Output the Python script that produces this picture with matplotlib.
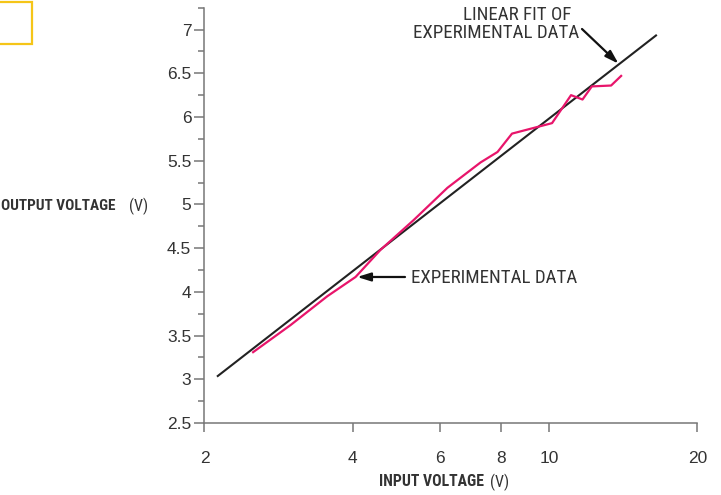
import numpy as np
import matplotlib
matplotlib.use("Agg")
import matplotlib.pyplot as plt
from matplotlib import font_manager
from matplotlib.ticker import FixedLocator, NullLocator, MultipleLocator
from matplotlib.patches import Rectangle

# pick a narrow font if one is installed
def pick_font(names):
    for n in names:
        try:
            font_manager.findfont(n, fallback_to_default=False)
            return n
        except Exception:
            pass
    return "DejaVu Sans"

narrow = pick_font(["Liberation Sans Narrow", "Roboto Condensed", "Open Sans Condensed", "Liberation Sans"])
plain = pick_font(["Liberation Sans", "Roboto", "DejaVu Sans"])
plt.rcParams["font.family"] = [narrow, "DejaVu Sans"]

input_v = [2.51, 2.99, 3.55, 4.05, 4.55, 5.31, 6.22, 7.26, 7.86, 8.41,
           10.14, 11.08, 11.69, 12.21, 13.36, 14.0]
output_v = [3.31, 3.62, 3.95, 4.17, 4.48, 4.82, 5.19, 5.48, 5.60, 5.81,
            5.93, 6.25, 6.20, 6.35, 6.36, 6.47]

# linear fit (end points)
fit_x = [2.12, 16.54]
fit_y = [3.03, 6.94]

x_ticks = [2, 4, 6, 8, 10, 20]
x_labels = ["2", "4", "6", "8", "10", "20"]
y_ticks = [2.5, 3, 3.5, 4, 4.5, 5, 5.5, 6, 6.5, 7]
y_labels = ["2.5", "3", "3.5", "4", "4.5", "5", "5.5", "6", "6.5", "7"]

text_col = "#333333"
axis_col = "#777777"

fig = plt.figure(figsize=(7.21, 4.95), dpi=100)
ax = fig.add_axes([0.2836, 0.1455, 0.6838, 0.8389])

ax.plot(fit_x, fit_y, color="#222222", lw=1.5, solid_capstyle="butt")
ax.plot(input_v, output_v, color="#e8156b", lw=1.6)

ax.set_xscale("log")
ax.set_xlim(2, 20)
ax.set_ylim(2.5, 7.25)
ax.xaxis.set_major_locator(FixedLocator(x_ticks))
ax.xaxis.set_minor_locator(NullLocator())
ax.set_xticklabels(x_labels)
ax.yaxis.set_major_locator(FixedLocator(y_ticks))
ax.yaxis.set_minor_locator(MultipleLocator(0.25))
ax.set_yticklabels(y_labels)

for s in ["top", "right"]:
    ax.spines[s].set_visible(False)
for s in ["left", "bottom"]:
    ax.spines[s].set_color(axis_col)
    ax.spines[s].set_linewidth(1.1)

ax.tick_params(axis="x", which="major", length=6.5, width=1.1, color=axis_col,
               labelcolor=text_col, labelsize=12.5, pad=13.5, labelfontfamily=plain)
ax.tick_params(axis="y", which="major", length=7.5, width=1.1, color=axis_col,
               labelcolor=text_col, labelsize=12.5, pad=2, labelfontfamily=plain)
ax.tick_params(axis="y", which="minor", length=4.3, width=1.1, color=axis_col)

# axis labels: bold name plus normal unit
fig.text(484 / 721, 1 - 482 / 495, "INPUT VOLTAGE", ha="right", va="center",
         fontsize=11.3, fontweight="bold", color=text_col)
fig.text(490 / 721, 1 - 482 / 495, "(V)", ha="left", va="center",
         fontsize=11.5, color=text_col)
fig.text(115 / 721, 1 - 206.5 / 495, "OUTPUT VOLTAGE", ha="right", va="center",
         fontsize=11.0, fontweight="bold", color=text_col)
fig.text(129 / 721, 1 - 206.5 / 495, "(V)", ha="left", va="center",
         fontsize=11.5, color=text_col)

# annotations
arrow = dict(arrowstyle="-|>,head_length=0.8,head_width=0.25", color="#111111", lw=1.6,
             shrinkA=0, shrinkB=0)
fig.text(411 / 721, 1 - 278 / 495, "EXPERIMENTAL DATA", ha="left", va="center",
         fontsize=13.6, color=text_col)
ax.annotate("", xy=(4.08, 4.17), xycoords="data",
            xytext=(405 / 721, 1 - 277 / 495), textcoords="figure fraction",
            arrowprops=arrow)
fig.text(517 / 721, 1 - 15.5 / 495, "LINEAR FIT OF", ha="center", va="center",
         fontsize=13.6, color=text_col)
fig.text(496.5 / 721, 1 - 33.5 / 495, "EXPERIMENTAL DATA", ha="center", va="center",
         fontsize=13.6, color=text_col)
ax.annotate("", xy=(13.83, 6.61), xycoords="data",
            xytext=(582 / 721, 1 - 29 / 495), textcoords="figure fraction",
            arrowprops=arrow)

# yellow box in the top-left corner
fig.patches.append(Rectangle((-10 / 721, 1 - 44 / 495), 42 / 721, 42 / 495,
                             transform=fig.transFigure, fill=False,
                             edgecolor="#f5c518", lw=1.6))

fig.savefig("out.png", dpi=100)
